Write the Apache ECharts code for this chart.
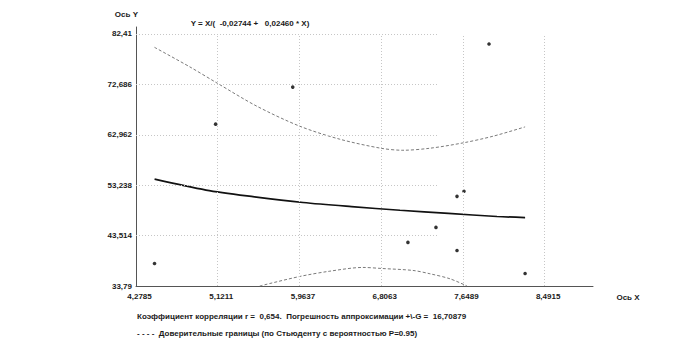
<!DOCTYPE html>
<html>
<head>
<meta charset="utf-8">
<script src="https://cdn.jsdelivr.net/npm/echarts@6/dist/echarts.min.js"></script>
<style>
  html, body { margin: 0; padding: 0; background: #fff; }
  #chart { width: 682px; height: 357px; }
</style>
</head>
<body>
<div id="chart"></div>
<script>
// ---- data ----
const X_TICKS = [4.2785, 5.1211, 5.9637, 6.8063, 7.6489, 8.4915];
const Y_TICKS = [33.79, 43.514, 53.238, 62.962, 72.686, 82.41];

const POINTS_X = [4.4695, 5.0994, 5.8945, 7.082, 7.371, 7.588, 7.660, 7.588, 7.918, 8.290];
const POINTS_Y = [38.14, 65.01, 72.16, 42.20, 45.10, 51.09, 52.06, 40.65, 80.48, 36.21];

const FIT_X = [4.47, 5.0, 5.5, 6.0, 6.5, 7.0, 7.5, 8.0, 8.29];
const FIT_Y = [54.4, 52.3, 51.0, 49.9, 49.1, 48.4, 47.8, 47.2, 47.0];

const UPPER_X = [4.469, 4.831, 5.120, 5.523, 5.967, 6.380, 6.803, 7.030, 7.309, 7.650, 7.960, 8.290];
const UPPER_Y = [79.84, 76.09, 72.88, 68.49, 64.62, 62.11, 60.37, 59.98, 60.37, 61.40, 62.69, 64.49];

const LOWER_X = [5.554, 5.967, 6.277, 6.617, 6.813, 7.134, 7.309, 7.516, 7.691];
const LOWER_Y = [33.79, 35.63, 36.65, 37.37, 37.17, 36.79, 36.15, 35.18, 33.79];

const TITLE_TEXT = 'Y = X/(  -0,02744 +   0,02460 * X)';
const FOOT_1 = 'Коэффициент корреляции r =  0,654.  Погрешность аппроксимации +\\-G =  16,70879';
const FOOT_2 = '- - - -  Доверительные границы (по Стьюденту с вероятностью P=0.95)';
const X_NAME = 'Ось X';
const Y_NAME = 'Ось Y';

// ---- layout / style ----
const X_MIN = X_TICKS[0], X_MAX = 8.99;
const Y_MIN = Y_TICKS[0], Y_MAX = 83.76;
const H_GRID_END_X = 7.392;
const FONT = '"Liberation Sans", Arial, sans-serif';
const TXT = '#1a1a1a';
const GRID_STYLE = { type: [1, 2], color: '#c6c6c6', width: 1 };

const zip = (xs, ys) => xs.map((x, i) => [x, ys[i]]);
const fmt = v => String(v).replace('.', ',');

const gridLines = [];
X_TICKS.slice(1).forEach(x => gridLines.push([{ coord: [x, Y_MIN] }, { coord: [x, Y_TICKS[Y_TICKS.length - 1]] }]));
Y_TICKS.slice(1).forEach(y => gridLines.push([{ coord: [X_MIN, y] }, { coord: [H_GRID_END_X, y] }]));

const chart = echarts.init(document.getElementById('chart'), null, { renderer: 'svg' });
chart.setOption({
  animation: false,
  backgroundColor: '#fff',
  grid: { left: 136, right: 89, top: 27, bottom: 71, containLabel: false, outerBoundsMode: 'none' },
  xAxis: {
    type: 'value', min: X_MIN, max: X_MAX,
    name: X_NAME, nameLocation: 'end', nameGap: 35,
    nameTextStyle: { fontFamily: FONT, fontSize: 8, fontWeight: 'bold', color: TXT, align: 'center', verticalAlign: 'top', padding: [7, 0, 0, 0] },
    axisLine: { show: true, lineStyle: { color: '#555', width: 1 } },
    axisTick: { show: false, customValues: X_TICKS },
    axisLabel: { customValues: X_TICKS, formatter: fmt, margin: 6, padding: [0, 0, 0, 7],
      fontFamily: FONT, fontSize: 8, fontWeight: 'bold', color: TXT },
    splitLine: { show: false }
  },
  yAxis: {
    type: 'value', min: Y_MIN, max: Y_MAX,
    name: Y_NAME, nameLocation: 'end', nameGap: 13,
    nameTextStyle: { fontFamily: FONT, fontSize: 8, fontWeight: 'bold', color: TXT, align: 'right', verticalAlign: 'middle', padding: [0, -2, 0, 0] },
    axisLine: { show: true, lineStyle: { color: '#555', width: 1 } },
    axisTick: { show: false, customValues: Y_TICKS },
    axisLabel: { customValues: Y_TICKS, formatter: fmt, margin: 4, padding: [0, 0, 7, 0],
      fontFamily: FONT, fontSize: 8, fontWeight: 'bold', color: TXT },
    splitLine: { show: false }
  },
  graphic: [
    { type: 'text', x: 250, y: 23, style: { text: TITLE_TEXT, font: 'bold 8px ' + FONT, fill: TXT, textAlign: 'center', textVerticalAlign: 'middle' } },
    { type: 'text', x: 137, y: 316, style: { text: FOOT_1, font: 'bold 8px ' + FONT, fill: TXT, textAlign: 'left', textVerticalAlign: 'middle' } },
    { type: 'text', x: 137, y: 333, style: { text: FOOT_2, font: 'bold 8px ' + FONT, fill: TXT, textAlign: 'left', textVerticalAlign: 'middle' } }
  ],
  series: [
    {
      name: 'grid', type: 'line', data: [], z: 1, silent: true,
      markLine: { silent: true, symbol: ['none', 'none'], label: { show: false }, lineStyle: GRID_STYLE,
        emphasis: { disabled: true }, data: gridLines }
    },
    {
      name: 'upper', type: 'line', data: zip(UPPER_X, UPPER_Y), smooth: 0.3, symbol: 'none', z: 2,
      lineStyle: { type: [3, 2], color: '#7a7a7a', width: 1 }
    },
    {
      name: 'lower', type: 'line', data: zip(LOWER_X, LOWER_Y), smooth: 0.3, symbol: 'none', z: 2,
      lineStyle: { type: [3, 2], color: '#7a7a7a', width: 1 }
    },
    {
      name: 'fit', type: 'line', data: zip(FIT_X, FIT_Y), smooth: 0.3, symbol: 'none', z: 3,
      lineStyle: { color: '#111', width: 1.7 }
    },
    {
      name: 'points', type: 'scatter', data: zip(POINTS_X, POINTS_Y), symbol: 'circle', symbolSize: 3.6, z: 4,
      itemStyle: { color: '#000' }
    }
  ]
});
</script>
</body>
</html>
